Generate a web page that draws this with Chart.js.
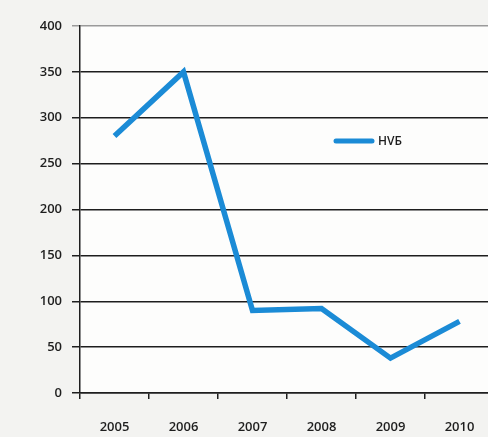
<!DOCTYPE html>
<html>
<head>
<meta charset="utf-8">
<script src="https://cdn.jsdelivr.net/npm/chart.js@4.4.0/dist/chart.umd.min.js"></script>
<style>
  html, body { margin: 0; padding: 0; background: #f3f3f1; overflow: hidden; }
  #wrap { position: relative; width: 500px; height: 437px; }
</style>
</head>
<body>
<div id="wrap"><canvas id="chart" width="500" height="437"></canvas></div>
<script>
// Years and values for the НVБ series
const years = ['2005', '2006', '2007', '2008', '2009', '2010'];
const nvbValues = [280, 350, 90, 92, 38, 78];
const yTicks = [0, 50, 100, 150, 200, 250, 300, 350, 400];

const lineColor = '#1b8bd6';
const inkColor = '#1e1e1e';
const labelFont = { family: 'Open Sans', size: 13, weight: '600' };

// White plot area on the grey page
const plotBackground = {
    id: 'plotBackground',
    beforeDraw(chart) {
        const { ctx, chartArea } = chart;
        ctx.save();
        ctx.fillStyle = '#fdfdfc';
        ctx.fillRect(chartArea.left, chartArea.top, chartArea.right - chartArea.left, chartArea.bottom - chartArea.top);
        ctx.restore();
    }
};

// Legend sits inside the plot, right of centre
const innerLegend = {
    id: 'innerLegend',
    afterDatasetsDraw(chart) {
        const { ctx, chartArea } = chart;
        const ds = chart.data.datasets[0];
        const x = chartArea.left + 256;
        const y = chartArea.top + 115;
        ctx.save();
        ctx.strokeStyle = ds.borderColor;
        ctx.lineWidth = 5;
        ctx.lineCap = 'round';
        ctx.beginPath();
        ctx.moveTo(x, y);
        ctx.lineTo(x + 36, y);
        ctx.stroke();
        ctx.fillStyle = inkColor;
        ctx.font = '600 12px "Open Sans"';
        ctx.textBaseline = 'middle';
        ctx.fillText(ds.label, x + 42, y + 1);
        ctx.restore();
    }
};

const ctx = document.getElementById('chart').getContext('2d');
const chart = new Chart(ctx, {
    type: 'line',
    data: {
        labels: years,
        datasets: [{
            label: 'НVБ',
            data: nvbValues,
            borderColor: lineColor,
            backgroundColor: lineColor,
            borderWidth: 5.5,
            pointRadius: 0,
            tension: 0,
            borderJoinStyle: 'miter'
        }]
    },
    options: {
        responsive: false,
        animation: false,
        layout: { padding: { top: 26, right: 6, left: 0, bottom: 0 } },
        plugins: {
            legend: { display: false },
            tooltip: { enabled: false }
        },
        scales: {
            x: {
                offset: true,
                grid: {
                    offset: true,
                    drawOnChartArea: false,
                    drawTicks: true,
                    tickLength: 6,
                    color: inkColor,
                    lineWidth: 1.5
                },
                border: { color: inkColor, width: 1.5 },
                ticks: {
                    color: inkColor,
                    font: labelFont,
                    padding: 20,
                    maxRotation: 0
                },
                afterFit(scale) { scale.height = 44; }
            },
            y: {
                min: 0,
                max: 400,
                afterBuildTicks(scale) {
                    scale.ticks = yTicks.map(v => ({ value: v }));
                },
                grid: {
                    color: ctx => ctx.tick && ctx.tick.value === 400 ? '#9a9a9a' : inkColor,
                    lineWidth: 1.5,
                    tickLength: 8
                },
                border: { color: inkColor, width: 1.5 },
                ticks: {
                    color: inkColor,
                    font: labelFont,
                    padding: 10
                },
                afterFit(scale) { scale.width = 80; }
            }
        }
    },
    plugins: [plotBackground, innerLegend]
});
</script>
</body>
</html>
